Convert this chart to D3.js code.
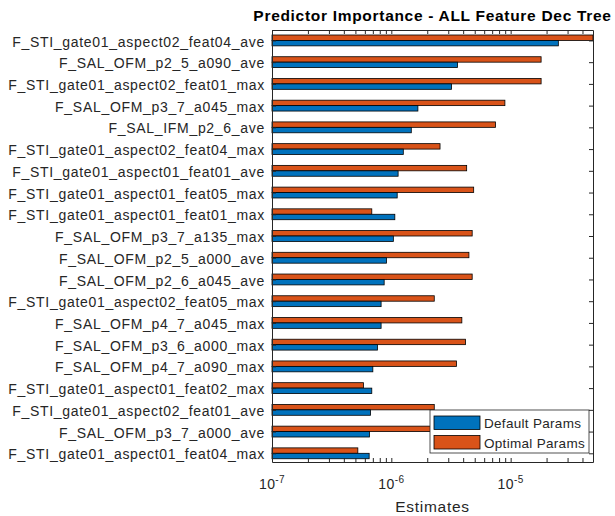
<!DOCTYPE html>
<meta charset="utf-8">
<title>Predictor Importance - ALL Feature Dec Tree</title>
<style>
body { margin: 0; background: #fff; }
text { font-family: "Liberation Sans", Arial, sans-serif; fill: #262626; }
</style>
<script src="https://d3js.org/d3.v7.min.js"></script>
<body>
<script>
// predictors, top to bottom
var predictors = [
  "F_STI_gate01_aspect02_feat04_ave",
  "F_SAL_OFM_p2_5_a090_ave",
  "F_STI_gate01_aspect02_feat01_max",
  "F_SAL_OFM_p3_7_a045_max",
  "F_SAL_IFM_p2_6_ave",
  "F_STI_gate01_aspect02_feat04_max",
  "F_STI_gate01_aspect01_feat01_ave",
  "F_STI_gate01_aspect01_feat05_max",
  "F_STI_gate01_aspect01_feat01_max",
  "F_SAL_OFM_p3_7_a135_max",
  "F_SAL_OFM_p2_5_a000_ave",
  "F_SAL_OFM_p2_6_a045_ave",
  "F_STI_gate01_aspect02_feat05_max",
  "F_SAL_OFM_p4_7_a045_max",
  "F_SAL_OFM_p3_6_a000_max",
  "F_SAL_OFM_p4_7_a090_max",
  "F_STI_gate01_aspect01_feat02_max",
  "F_STI_gate01_aspect02_feat01_ave",
  "F_SAL_OFM_p3_7_a000_ave",
  "F_STI_gate01_aspect01_feat04_max"
];
var defaultParams = [2.51e-5, 3.59e-6, 3.20e-6, 1.67e-6, 1.47e-6, 1.26e-6, 1.14e-6, 1.12e-6, 1.07e-6, 1.04e-6,
                     9.12e-7, 8.71e-7, 8.21e-7, 8.21e-7, 7.66e-7, 7.0e-7, 6.86e-7, 6.70e-7, 6.56e-7, 6.52e-7];
var optimalParams = [5.0e-5, 1.80e-5, 1.80e-5, 8.95e-6, 7.48e-6, 2.56e-6, 4.28e-6, 4.90e-6, 6.86e-7, 4.76e-6,
                     4.47e-6, 4.76e-6, 2.29e-6, 3.90e-6, 4.19e-6, 3.52e-6, 5.84e-7, 2.29e-6, 2.5e-6, 5.24e-7];
var seriesNames = ["Default Params", "Optimal Params"];
var majorTicks = [1e-7, 1e-6, 1e-5];
var majorExp = ["-7", "-6", "-5"];
var minorTicks = [2e-7, 3e-7, 4e-7, 5e-7, 6e-7, 7e-7, 8e-7, 9e-7,
                  2e-6, 3e-6, 4e-6, 5e-6, 6e-6, 7e-6, 8e-6, 9e-6,
                  2e-5, 3e-5, 4e-5];

var width = 615, height = 516;
var mLeft = 272, mRight = 593, mTop = 30, mBottom = 462;
var blue = "#0072BD", orange = "#D95319", axisCol = "#262626";

var svg = d3.select("body").append("svg")
    .attr("width", width)
    .attr("height", height);

var x = d3.scaleLog()
    .domain([1e-7, 4.9e-5])
    .range([mLeft, mRight])
    .clamp(true);
var y = d3.scaleLinear()
    .domain([0.52, 20.4])
    .range([mTop, mBottom]);

var rows = predictors.map(function(p, i) {
  return { name: p, pos: i + 1, def: defaultParams[i], opt: optimalParams[i] };
});

// bars: optimal above, default below
var bars = svg.append("g");
bars.selectAll("rect.opt")
    .data(rows)
  .enter().append("rect")
    .attr("class", "opt")
    .attr("x", x(1e-7))
    .attr("y", function(d) { return y(d.pos - 0.25); })
    .attr("width", function(d) { return x(d.opt) - x(1e-7); })
    .attr("height", function(d) { return y(d.pos) - y(d.pos - 0.25); })
    .attr("fill", orange)
    .attr("stroke", "#000")
    .attr("stroke-width", 0.8);
bars.selectAll("rect.def")
    .data(rows)
  .enter().append("rect")
    .attr("class", "def")
    .attr("x", x(1e-7))
    .attr("y", function(d) { return y(d.pos); })
    .attr("width", function(d) { return x(d.def) - x(1e-7); })
    .attr("height", function(d) { return y(d.pos + 0.25) - y(d.pos); })
    .attr("fill", blue)
    .attr("stroke", "#000")
    .attr("stroke-width", 0.8);

// axes (ticks point inward, box all round)
var allTicks = majorTicks.concat(minorTicks);
function styleAxis(g) {
  g.select(".domain").attr("stroke", axisCol);
  g.selectAll(".tick line").attr("stroke", axisCol);
}
svg.append("g")
    .attr("transform", "translate(0," + mBottom + ")")
    .call(d3.axisBottom(x).tickValues(allTicks).tickSize(-4).tickSizeOuter(0).tickFormat(""))
    .call(styleAxis);
svg.append("g")
    .attr("transform", "translate(0," + mTop + ")")
    .call(d3.axisTop(x).tickValues(allTicks).tickSize(-4).tickSizeOuter(0).tickFormat(""))
    .call(styleAxis);
var yl = svg.append("g")
    .attr("transform", "translate(" + mLeft + ",0)")
    .call(d3.axisLeft(y).tickValues(rows.map(function(d) { return d.pos; }))
      .tickSize(-4).tickSizeOuter(0).tickPadding(7)
      .tickFormat(function(v) { return predictors[v - 1]; }))
    .call(styleAxis);
yl.selectAll(".tick text")
    .attr("font-size", 14)
    .attr("letter-spacing", 0.7)
    .attr("dy", "0.4em")
    .attr("font-family", "Liberation Sans, Arial, sans-serif")
    .attr("fill", axisCol);
svg.append("g")
    .attr("transform", "translate(" + mRight + ",0)")
    .call(d3.axisRight(y).tickValues(rows.map(function(d) { return d.pos; }))
      .tickSize(-4).tickSizeOuter(0).tickFormat(""))
    .call(styleAxis);

// x tick labels with superscript exponents
var xl = svg.append("g").selectAll("text")
    .data(majorTicks)
  .enter().append("text")
    .attr("x", function(d) { return x(d); })
    .attr("y", 489)
    .attr("text-anchor", "middle")
    .attr("font-size", 14)
    .attr("letter-spacing", 0.4);
xl.append("tspan").text("10");
xl.append("tspan")
    .attr("dy", -6)
    .attr("font-size", 10)
    .text(function(d, i) { return majorExp[i]; });

svg.append("text")
    .attr("x", (mLeft + mRight) / 2)
    .attr("y", 512)
    .attr("text-anchor", "middle")
    .attr("font-size", 15.5)
    .attr("letter-spacing", 0.7)
    .text("Estimates");

svg.append("text")
    .attr("x", (mLeft + mRight) / 2)
    .attr("y", 21)
    .attr("text-anchor", "middle")
    .attr("font-size", 15.5)
    .attr("font-weight", "bold")
    .attr("letter-spacing", 0.7)
    .style("fill", "#000")
    .text("Predictor Importance - ALL Feature Dec Tree");

// legend
var lg = svg.append("g").attr("transform", "translate(430,410)");
lg.append("rect")
    .attr("width", 159)
    .attr("height", 43)
    .attr("fill", "#fff")
    .attr("stroke", axisCol)
    .attr("stroke-width", 0.8);
var items = lg.selectAll("g.item")
    .data(seriesNames)
  .enter().append("g")
    .attr("transform", function(d, i) { return "translate(4," + (6 + i * 19.5) + ")"; });
items.append("rect")
    .attr("width", 46)
    .attr("height", 13.5)
    .attr("fill", function(d, i) { return i === 0 ? blue : orange; })
    .attr("stroke", "#000")
    .attr("stroke-width", 0.8);
items.append("text")
    .attr("x", 50)
    .attr("y", 12)
    .attr("font-size", 13.5)
    .attr("letter-spacing", 0.3)
    .text(function(d) { return d; });
</script>
